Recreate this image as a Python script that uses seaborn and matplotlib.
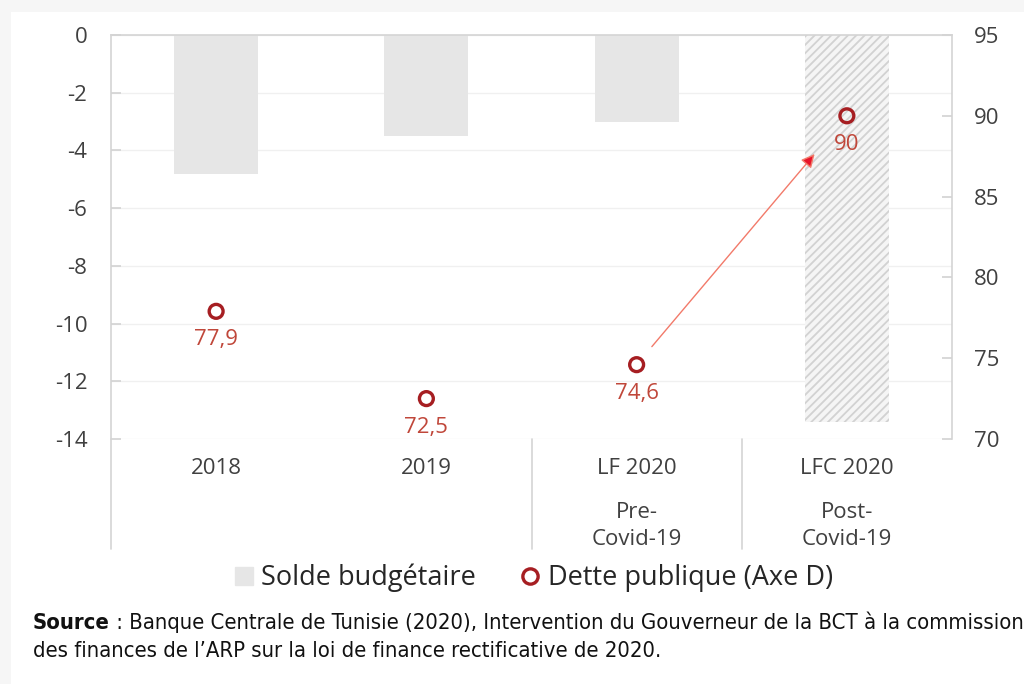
import numpy as np
import matplotlib
matplotlib.use("Agg")
import matplotlib.pyplot as plt
import seaborn as sns
from matplotlib.lines import Line2D
from matplotlib.patches import Rectangle

# Data
categories = ["2018", "2019", "LF 2020", "LFC 2020"]
sub_labels = ["", "", "Pre-\nCovid-19", "Post-\nCovid-19"]
solde = [-4.8, -3.5, -3.0, -13.4]        # Solde budgétaire (axe G)
dette = [77.9, 72.5, 74.6, 90.0]         # Dette publique (axe D)

source_bold = "Source"
source_line1 = " : Banque Centrale de Tunisie (2020), Intervention du Gouverneur de la BCT à la commission"
source_line2 = "des finances de l\u2019ARP sur la loi de finance rectificative de 2020."

sns.set_theme(style="white")
plt.rcParams["font.family"] = ["Open Sans", "DejaVu Sans"]
plt.rcParams["axes.unicode_minus"] = False
plt.rcParams["hatch.linewidth"] = 1.3

TXT = "#404040"
GRID = "#f0f0f0"
SPINE = "#d4d4d4"
BAR = "#e6e6e6"
DOT = "#a61e22"
LAB = "#c0473a"
SRC_FONT = dict(family=["DejaVu Sans"], fontstretch="condensed", fontsize=15.8, color="#111111")


def fmt(v):
    return str(int(v)) if float(v).is_integer() else f"{v}".replace(".", ",")


def main():
    fig = plt.figure(figsize=(10.24, 6.84), dpi=100, facecolor="#f6f6f6")
    fig.patches.append(Rectangle((11 / 1024, 0), 1, 1 - 12 / 684, transform=fig.transFigure,
                                 facecolor="white", edgecolor="none", zorder=-10))
    ax = fig.add_axes([111 / 1024, 1 - 439 / 684, (952 - 111) / 1024, (439 - 35) / 684])
    ax.set_facecolor("none")
    pos = np.arange(len(categories))

    sns.barplot(x=categories, y=solde, ax=ax, color=BAR, saturation=1, width=0.4,
                errorbar=None, linewidth=0, zorder=2)
    last = ax.patches[-1]
    last.set_facecolor("#f5f5f5")
    last.set_hatch("////")
    last.set_edgecolor("#d2d2d2")
    last.set_linewidth(0)

    ax.set_ylim(-14, 0)
    ax.set_yticks(np.arange(-14, 1, 2))
    ax.set_xlim(-0.5, 3.5)
    ax.set_xticks(pos)
    ax.set_xticklabels(categories)
    ax.yaxis.grid(True, color=GRID, lw=1, zorder=0)
    ax.set_axisbelow(True)
    ax.tick_params(axis="y", direction="in", length=7, color=SPINE, labelsize=16,
                   labelcolor=TXT, pad=17)
    ax.tick_params(axis="x", length=0, labelsize=16, labelcolor=TXT, pad=14)
    ax.set_xlabel("")
    ax.set_ylabel("")
    for s in ["left", "top", "right"]:
        ax.spines[s].set_color(SPINE)
        ax.spines[s].set_linewidth(1.2)
    ax.spines["bottom"].set_visible(False)

    # separators under the axis
    trans = ax.get_xaxis_transform()
    for xs in [-0.5, 1.5, 2.5]:
        ax.plot([xs, xs], [0, -110 / 404], transform=trans, color=SPINE, lw=1.2,
                clip_on=False)
    for i, lab in enumerate(sub_labels):
        if lab:
            ax.text(i, -87 / 404, lab, transform=trans, ha="center", va="center",
                    fontsize=16, color=TXT, linespacing=1.35)

    ax2 = ax.twinx()
    sns.scatterplot(x=pos, y=dette, ax=ax2, s=100, marker="o", facecolors="none",
                    edgecolor=DOT, linewidth=2.4, zorder=5, legend=False)
    ax2.set_ylim(70, 95)
    ax2.set_yticks(np.arange(70, 96, 5))
    ax2.set_xlim(-0.5, 3.5)
    ax2.tick_params(axis="y", direction="in", length=7, color=SPINE, labelsize=16,
                    labelcolor=TXT, pad=16)
    for s in ax2.spines.values():
        s.set_visible(False)
    ax2.set_ylabel("")

    for i, v in enumerate(dette):
        ax2.annotate(fmt(v), (pos[i], v), xytext=(0, -20.5), textcoords="offset points",
                     ha="center", va="center", fontsize=16, color=LAB)

    ax2.annotate("", xy=(pos[3], dette[3]), xytext=(pos[2], dette[2]),
                 arrowprops=dict(arrowstyle="-|>", fc="#e8132a", ec="#f27a6a", lw=1,
                                 mutation_scale=20, shrinkA=17, shrinkB=36))

    handles = [
        Line2D([], [], ls="", marker="s", mfc=BAR, mec=BAR, ms=13),
        Line2D([], [], ls="", marker="o", mfc="none", mec=DOT, mew=2.4, ms=11),
    ]
    fig.legend(handles, ["Solde budgétaire", "Dette publique (Axe D)"], loc="center",
               bbox_to_anchor=(533 / 1024, 1 - 578 / 684), ncol=2, frameon=False,
               fontsize=19.5, handletextpad=0.25, columnspacing=1.6, handlelength=0.8,
               labelcolor="#262626")

    st = fig.text(33 / 1024, 1 - 623 / 684, source_bold, fontweight="bold", va="center",
                  **SRC_FONT)
    ax.annotate(source_line1, xy=(1, 0), xycoords=st, va="bottom", ha="left",
                annotation_clip=False, **SRC_FONT)
    fig.text(33 / 1024, 1 - 651 / 684, source_line2, va="center", **SRC_FONT)

    fig.savefig("out.png", dpi=100, facecolor=fig.get_facecolor())


if __name__ == "__main__":
    main()
